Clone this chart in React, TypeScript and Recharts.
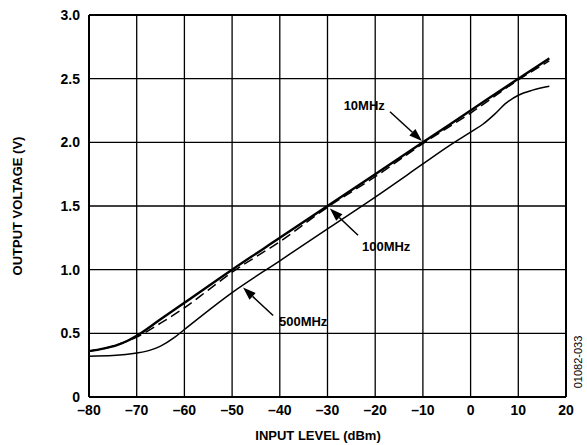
import React from 'react'
import {
  CartesianGrid,
  Customized,
  Line,
  LineChart,
  ReferenceDot,
  ReferenceLine,
  XAxis,
  YAxis,
} from 'recharts'

const X_TICKS = [-80, -70, -60, -50, -40, -30, -20, -10, 0, 10, 20]
const Y_TICKS = [0, 0.5, 1, 1.5, 2, 2.5, 3]

const X_10MHZ = [-80, -77, -74, -72, -70, -65, -60, -50, -40, -30, -20, -10, 0, 10, 16.5]
const V_10MHZ = [0.36, 0.38, 0.41, 0.44, 0.48, 0.61, 0.74, 1.0, 1.25, 1.5, 1.75, 2.0, 2.25, 2.5, 2.66]

const X_100MHZ = [-80, -77, -74, -72, -70, -65, -60, -55, -50, -40, -30, -20, -10, 0, 10, 16.5]
const V_100MHZ = [0.36, 0.38, 0.41, 0.44, 0.47, 0.58, 0.7, 0.84, 0.98, 1.22, 1.49, 1.73, 1.99, 2.23, 2.49, 2.64]

const X_500MHZ = [-80, -75, -70, -67, -65, -62, -60, -50, -40, -30, -20, -10, -5, 0, 2.5, 5, 7.5, 10, 13, 16.5]
const V_500MHZ = [0.32, 0.325, 0.345, 0.37, 0.4, 0.47, 0.53, 0.82, 1.07, 1.32, 1.57, 1.83, 1.96, 2.08, 2.14, 2.22, 2.31, 2.37, 2.41, 2.44]

const zip = (xs: number[], ys: number[]) => xs.map((x, i) => ({ x, v: ys[i] }))

const FONT = 'Liberation Sans, Arial, sans-serif'

const fmtX = (v: number) => (v < 0 ? `\u2013${-v}` : `${v}`)
const fmtY = (v: number) => (v === 0 ? '0' : v.toFixed(1))

const Arrow = (props: any) => {
  const { x1, y1, x2, y2 } = props
  const a = Math.atan2(y2 - y1, x2 - x1)
  const len = 13
  const w = 4.5
  const bx = x2 - len * Math.cos(a)
  const by = y2 - len * Math.sin(a)
  const px = -Math.sin(a) * w
  const py = Math.cos(a) * w
  return (
    <g>
      <line x1={x1} y1={y1} x2={bx} y2={by} stroke="#000" strokeWidth={1.5} />
      <polygon points={`${x2},${y2} ${bx + px},${by + py} ${bx - px},${by - py}`} fill="#000" />
    </g>
  )
}

const Titles = () => (
  <g fontFamily={FONT} fontWeight="bold" fill="#000">
    <text x={318} y={440} textAnchor="middle" fontSize={13}>
      INPUT LEVEL (dBm)
    </text>
    <text x={22} y={206} textAnchor="middle" fontSize={13} transform="rotate(-90 22 206)">
      OUTPUT VOLTAGE (V)
    </text>
    <text
      x={582}
      y={362}
      textAnchor="middle"
      fontSize={11}
      fontWeight="normal"
      transform="rotate(-90 582 362)"
    >
      01082-033
    </text>
  </g>
)

const labelStyle = { fontFamily: FONT, fontWeight: 'bold', fontSize: 13, fill: '#000' }

export default function App() {
  return (
    <div style={{ position: 'absolute', left: 0, top: 0, background: '#fff' }}>
      <LineChart width={587} height={445} margin={{ top: 15, right: 21, left: 0, bottom: 0 }}>
        <CartesianGrid stroke="#000" strokeWidth={1.3} horizontalValues={Y_TICKS} verticalValues={X_TICKS} />
        <XAxis
          type="number"
          dataKey="x"
          domain={[-80, 20]}
          ticks={X_TICKS}
          tickFormatter={fmtX}
          height={48}
          tickLine={false}
          tickSize={0}
          tickMargin={8}
          axisLine={{ stroke: '#000', strokeWidth: 2 }}
          tick={{ fill: '#000', fontSize: 14, fontWeight: 'bold', fontFamily: FONT }}
          allowDataOverflow
        />
        <YAxis
          type="number"
          domain={[0, 3]}
          ticks={Y_TICKS}
          tickFormatter={fmtY}
          width={89}
          tickLine={false}
          tickSize={0}
          tickMargin={9}
          axisLine={{ stroke: '#000', strokeWidth: 2 }}
          tick={{ fill: '#000', fontSize: 14, fontWeight: 'bold', fontFamily: FONT }}
        />
        <ReferenceLine y={3} stroke="#000" strokeWidth={2} />
        <ReferenceLine x={20} stroke="#000" strokeWidth={2} />
        <Line
          data={zip(X_500MHZ, V_500MHZ)}
          dataKey="v"
          type="monotone"
          stroke="#000"
          strokeWidth={1.5}
          dot={false}
          isAnimationActive={false}
        />
        <Line
          data={zip(X_10MHZ, V_10MHZ)}
          dataKey="v"
          type="monotone"
          stroke="#000"
          strokeWidth={2.4}
          dot={false}
          isAnimationActive={false}
        />
        <Line
          data={zip(X_100MHZ, V_100MHZ)}
          dataKey="v"
          type="monotone"
          stroke="#000"
          strokeWidth={1.5}
          strokeDasharray="10 5"
          dot={false}
          isAnimationActive={false}
        />
        <ReferenceLine segment={[{ x: -16.9, y: 2.24 }, { x: -10.2, y: 2.01 }]} shape={Arrow} />
        <ReferenceLine segment={[{ x: -23.6, y: 1.27 }, { x: -29.5, y: 1.48 }]} shape={Arrow} />
        <ReferenceLine segment={[{ x: -41.4, y: 0.64 }, { x: -47.7, y: 0.86 }]} shape={Arrow} />
        <ReferenceDot x={-22.3} y={2.29} r={0} stroke="none" label={{ value: '10MHz', position: 'center', style: labelStyle }} />
        <ReferenceDot x={-17.7} y={1.18} r={0} stroke="none" label={{ value: '100MHz', position: 'center', style: labelStyle }} />
        <ReferenceDot x={-35.1} y={0.59} r={0} stroke="none" label={{ value: '500MHz', position: 'center', style: labelStyle }} />
        <Customized component={Titles} />
      </LineChart>
    </div>
  )
}
